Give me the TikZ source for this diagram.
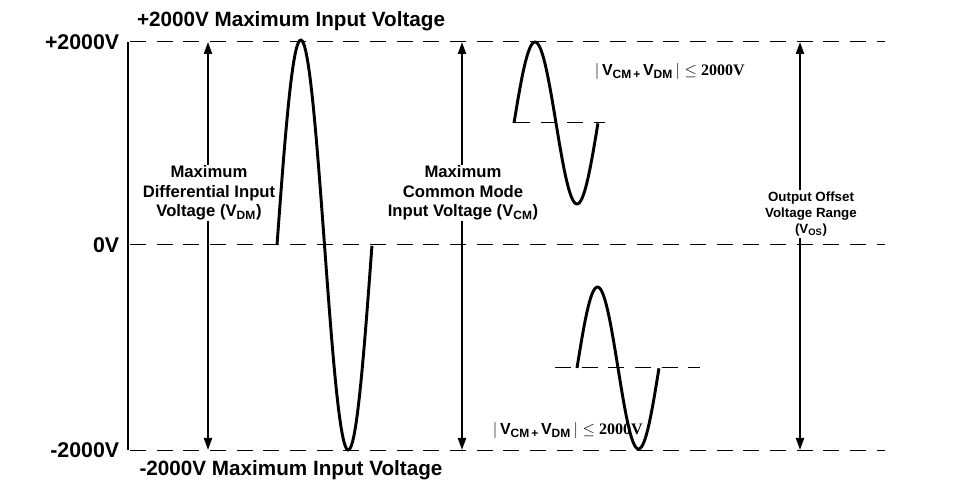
\documentclass[tikz,border=0pt]{standalone}
\usepackage{fontspec}
\setmainfont{Liberation Sans}
\newfontfamily\serifbf{Liberation Serif}
\usetikzlibrary{arrows.meta}
\tikzset{every picture/.style={line width=0.75pt}}
\tikzset{
  level/.style={dash pattern={on 12pt off 8pt}},
  wave/.style={line width=2.2pt},
  span/.style={line width=1.5pt,{Triangle[length=9pt,width=6pt]}-{Triangle[length=9pt,width=6pt]}},
  lbl/.style={font=\bfseries\fontsize{12.5}{14.5}\selectfont,align=center,inner sep=1pt,fill=white},
  volt/.style={font=\bfseries\fontsize{16}{18}\selectfont,anchor=east,inner sep=1pt}
}
\newcommand{\sumtext}{$|$\,V\textsubscript{\small CM\,+\,}V\textsubscript{\small DM}\,$|$ {\serifbf $\leq$ 2000V}}
\begin{document}
\begin{tikzpicture}[x=0.75pt,y=0.75pt,yscale=-1,xscale=1]
\path[use as bounding box] (0,0) rectangle (961,495);

%levels
\coordinate (top) at (128,42);
\coordinate (mid) at (128,245);
\coordinate (bot) at (128,450);
\draw [level] (130,42) -- (885,42);
\draw [level] (130,245) -- (885,245);
\draw [level] (130,450) -- (885,450);
\draw [line width=1.8pt] (top) -- (bot);

% Text Node
\node [volt] (vp) at (121,42) {+2000V};
\node [volt] (v0) at (121,245) {0V};
\node [volt] (vm) at (121,450) {-2000V};
\node [font=\bfseries\fontsize{15.5}{18}\selectfont] (ttop) at (291,21) {+2000V Maximum Input Voltage};
\node [font=\bfseries\fontsize{15.5}{18}\selectfont] (tbot) at (291,470) {-2000V Maximum Input Voltage};

%spans
\draw [span] (208,42) -- (208,450);
\draw [span] (462,42) -- (462,450);
\draw [span] (800,42) -- (800,450);
\node [lbl] (vdm) at (209,193) {Maximum\\Differential Input\\Voltage (V\textsubscript{\small DM})};
\node [lbl] (vcm) at (463,193) {Maximum\\Common Mode\\Input Voltage (V\textsubscript{\small CM})};
\node [lbl,font=\bfseries\fontsize{10}{12}\selectfont] (vos) at (811,214) {Output Offset\\Voltage Range\\(V\textsubscript{OS})};

%waves
\draw [wave] plot[domain=0:1,samples=80] ({277+95*\x},{245-205*sin(360*\x)});
\draw [level] (514,123) -- (605,123);
\draw [wave] plot[domain=0:1,samples=60] ({514+84*\x},{123-81*sin(360*\x)});
\draw [level] (555,368) -- (700,368);
\draw [wave] plot[domain=0:1,samples=60] ({577+82*\x},{368-81*sin(360*\x)});

\node [font=\bfseries\fontsize{12}{14}\selectfont,anchor=west] (sumup) at (590,72) {\sumtext};
\node [font=\bfseries\fontsize{12}{14}\selectfont,anchor=west] (sumdn) at (488,431) {\sumtext};
\end{tikzpicture}
\end{document}
